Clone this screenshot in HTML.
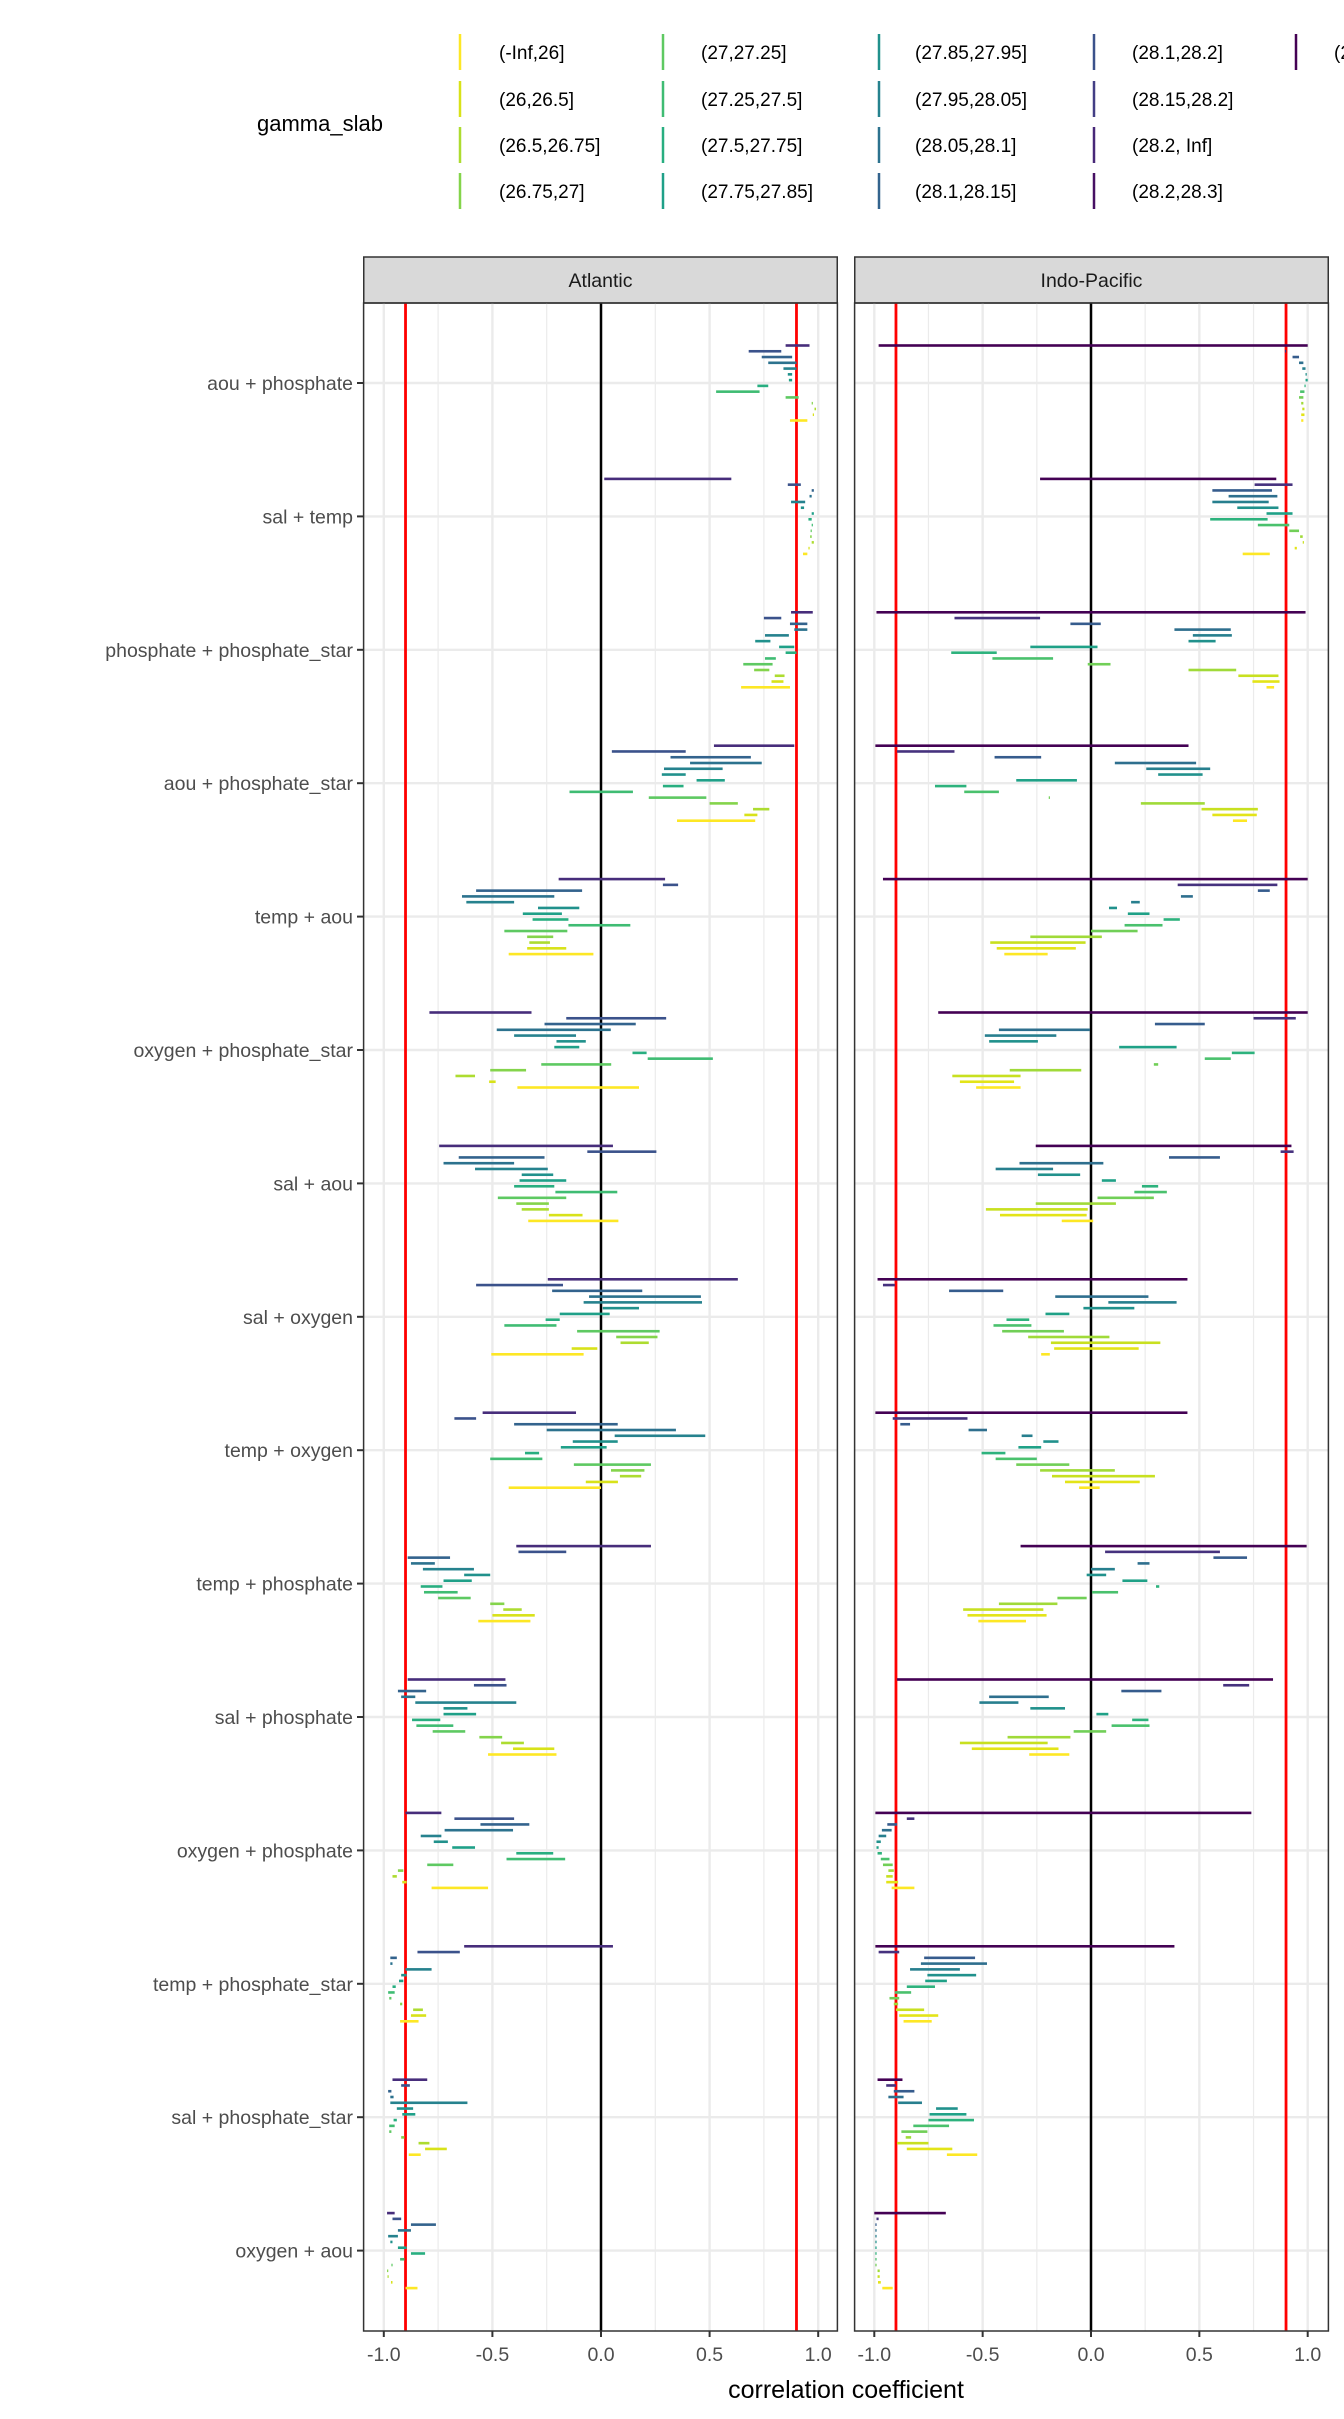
<!DOCTYPE html>
<html><head><meta charset="utf-8">
<style>
html,body{margin:0;padding:0;background:#fff;}
body{width:1344px;height:2419px;overflow:hidden;font-family:"Liberation Sans",sans-serif;}
svg{display:block}
</style></head>
<body>
<svg id="chart" width="1344" height="2419" viewBox="0 0 1344 2419" xmlns="http://www.w3.org/2000/svg" font-family="Liberation Sans, sans-serif">
  <g id="legend"></g>
  <g id="panels"></g>
  <text x="846" y="2398" font-size="25" text-anchor="middle" fill="#000">correlation coefficient</text>
</svg>
<script>
const categories = ["aou + phosphate","sal + temp","phosphate + phosphate_star","aou + phosphate_star","temp + aou","oxygen + phosphate_star","sal + aou","sal + oxygen","temp + oxygen","temp + phosphate","sal + phosphate","oxygen + phosphate","temp + phosphate_star","sal + phosphate_star","oxygen + aou"];
const panelNames = ["Atlantic","Indo-Pacific"];
const xTicks = [-1,-0.5,0,0.5,1];
const xTickLabels = ["-1.0","-0.5","0.0","0.5","1.0"];
const xMinor = [-0.75,-0.25,0.25,0.75];
const refLines = [-0.9,0.9];
const legendLabels = ["(-Inf,26]","(26,26.5]","(26.5,26.75]","(26.75,27]","(27,27.25]","(27.25,27.5]","(27.5,27.75]","(27.75,27.85]","(27.85,27.95]","(27.95,28.05]","(28.05,28.1]","(28.1,28.15]","(28.1,28.2]","(28.15,28.2]","(28.2, Inf]","(28.2,28.3]","(28.3, Inf]"];
const legendColors = ["#fde725","#d8e219","#addc30","#84d44b","#5ec962","#3fbc73","#28ae80","#1fa088","#21918c","#26828e","#2c728e","#33638d","#3b528b","#433e85","#482878","#471063","#440154"];
const atlColors = ["#472d7b","#3b528b","#33638d","#2c728e","#26828e","#21918c","#1fa088","#28ae80","#3fbc73","#5ec962","#84d44b","#addc30","#d8e219","#fde725"];
const indoColors = ["#440154","#46327e","#365c8d","#2e6f8e","#277f8e","#21918c","#1fa187","#2db27d","#4ac16d","#71cf57","#a0da39","#c8e020","#e3e418","#fde725"];

const atlantic = [
[[0.85,0.96],[0.68,0.83],[0.74,0.88],[0.77,0.90],[0.84,0.90],[0.86,0.88],[0.865,0.88],[0.72,0.77],[0.53,0.73],[0.85,0.91],[0.97,0.975],[0.983,0.99],[0.975,0.98],[0.87,0.95]],
[[0.015,0.60],[0.86,0.92],[0.97,0.98],[0.96,0.97],[0.875,0.94],[0.92,0.935],[0.97,0.98],[0.955,0.97],[0.97,0.975],[0.965,0.97],[0.963,0.97],[0.97,0.98],[0.955,0.96],[0.93,0.95]],
[[0.875,0.975],[0.75,0.83],[0.87,0.95],[0.89,0.95],[0.755,0.865],[0.71,0.78],[0.82,0.89],[0.85,0.90],[0.755,0.805],[0.655,0.79],[0.705,0.775],[0.80,0.845],[0.785,0.84],[0.645,0.87]],
[[0.52,0.89],[0.05,0.39],[0.32,0.69],[0.41,0.74],[0.29,0.56],[0.28,0.39],[0.44,0.57],[0.285,0.38],[-0.145,0.147],[0.22,0.485],[0.50,0.63],[0.70,0.775],[0.66,0.72],[0.35,0.71]],
[[-0.195,0.295],[0.285,0.355],[-0.575,-0.087],[-0.64,-0.215],[-0.62,-0.40],[-0.29,-0.10],[-0.36,-0.18],[-0.315,-0.15],[-0.15,0.135],[-0.445,-0.155],[-0.34,-0.22],[-0.33,-0.235],[-0.34,-0.16],[-0.425,-0.035]],
[[-0.79,-0.32],[-0.16,0.30],[-0.26,0.16],[-0.48,0.045],[-0.40,-0.115],[-0.205,-0.07],[-0.215,-0.10],[0.145,0.21],[0.215,0.515],[-0.275,0.047],[-0.51,-0.345],[-0.67,-0.58],[-0.515,-0.485],[-0.385,0.175]],
[[-0.745,0.055],[-0.063,0.255],[-0.655,-0.26],[-0.725,-0.40],[-0.58,-0.245],[-0.365,-0.22],[-0.375,-0.16],[-0.40,-0.215],[-0.21,0.075],[-0.475,-0.16],[-0.39,-0.24],[-0.365,-0.24],[-0.24,-0.085],[-0.335,0.08]],
[[-0.245,0.63],[-0.575,-0.175],[-0.225,0.19],[-0.055,0.46],[-0.08,0.465],[0.008,0.175],[-0.19,0.04],[-0.255,-0.19],[-0.445,-0.205],[-0.11,0.27],[0.07,0.26],[0.09,0.22],[-0.135,-0.017],[-0.505,-0.08]],
[[-0.545,-0.115],[-0.675,-0.575],[-0.40,0.077],[-0.25,0.345],[0.063,0.48],[-0.13,0.077],[-0.185,0.026],[-0.35,-0.285],[-0.51,-0.27],[-0.125,0.23],[0.046,0.20],[0.087,0.185],[-0.07,0.078],[-0.425,0.0]],
[[-0.39,0.23],[-0.38,-0.16],[-0.89,-0.695],[-0.875,-0.765],[-0.82,-0.585],[-0.63,-0.51],[-0.725,-0.595],[-0.83,-0.73],[-0.815,-0.66],[-0.75,-0.60],[-0.51,-0.445],[-0.45,-0.365],[-0.50,-0.305],[-0.565,-0.325]],
[[-0.89,-0.44],[-0.585,-0.435],[-0.935,-0.805],[-0.92,-0.855],[-0.855,-0.39],[-0.725,-0.615],[-0.725,-0.575],[-0.87,-0.74],[-0.85,-0.68],[-0.775,-0.625],[-0.56,-0.455],[-0.46,-0.355],[-0.405,-0.215],[-0.52,-0.205]],
[[-0.90,-0.735],[-0.675,-0.40],[-0.555,-0.33],[-0.72,-0.405],[-0.83,-0.735],[-0.77,-0.705],[-0.685,-0.58],[-0.39,-0.22],[-0.435,-0.165],[-0.80,-0.68],[-0.935,-0.91],[-0.96,-0.94],[-0.915,-0.895],[-0.78,-0.52]],
[[-0.63,0.055],[-0.845,-0.65],[-0.97,-0.94],[-0.97,-0.96],[-0.90,-0.78],[-0.92,-0.895],[-0.93,-0.91],[-0.96,-0.945],[-0.98,-0.95],[-0.975,-0.965],[-0.925,-0.915],[-0.865,-0.82],[-0.875,-0.805],[-0.925,-0.84]],
[[-0.96,-0.80],[-0.92,-0.88],[-0.98,-0.965],[-0.97,-0.955],[-0.97,-0.615],[-0.94,-0.865],[-0.915,-0.855],[-0.955,-0.94],[-0.975,-0.95],[-0.975,-0.965],[-0.92,-0.905],[-0.84,-0.79],[-0.81,-0.71],[-0.885,-0.83]],
[[-0.985,-0.95],[-0.96,-0.92],[-0.875,-0.76],[-0.935,-0.875],[-0.98,-0.935],[-0.97,-0.96],[-0.935,-0.895],[-0.875,-0.81],[-0.925,-0.905],[-0.965,-0.96],[-0.985,-0.982],[-0.983,-0.98],[-0.967,-0.96],[-0.90,-0.845]]
];
const indoPacific = [
[[-0.98,1.0],[0.895,0.90],[0.93,0.96],[0.96,0.98],[0.975,0.99],[0.99,0.995],[0.99,1.0],[0.985,0.99],[0.965,0.985],[0.96,0.98],[0.97,0.98],[0.975,0.985],[0.97,0.985],[0.97,0.98]],
[[-0.235,0.855],[0.755,0.93],[0.56,0.835],[0.635,0.86],[0.56,0.82],[0.675,0.865],[0.81,0.93],[0.55,0.815],[0.77,0.915],[0.915,0.96],[0.965,0.977],[0.977,0.98],[0.94,0.95],[0.70,0.825]],
[[-0.99,0.99],[-0.63,-0.235],[-0.095,0.045],[0.385,0.645],[0.47,0.65],[0.45,0.575],[-0.28,0.03],[-0.645,-0.435],[-0.455,-0.175],[-0.015,0.09],[0.45,0.67],[0.68,0.865],[0.745,0.87],[0.81,0.845]],
[[-0.995,0.45],[-0.895,-0.63],[-0.445,-0.23],[0.11,0.485],[0.255,0.55],[0.31,0.515],[-0.345,-0.065],[-0.72,-0.575],[-0.585,-0.425],[-0.195,-0.19],[0.23,0.525],[0.51,0.77],[0.56,0.765],[0.655,0.72]],
[[-0.96,1.0],[0.40,0.86],[0.77,0.825],[0.415,0.47],[0.185,0.225],[0.083,0.12],[0.17,0.27],[0.335,0.41],[0.155,0.33],[0.0,0.215],[-0.28,0.05],[-0.465,-0.025],[-0.435,-0.07],[-0.40,-0.20]],
[[-0.705,1.0],[0.75,0.945],[0.295,0.525],[-0.425,-0.005],[-0.49,-0.16],[-0.47,-0.245],[0.13,0.395],[0.65,0.755],[0.525,0.645],[0.29,0.31],[-0.375,-0.045],[-0.64,-0.325],[-0.605,-0.355],[-0.53,-0.325]],
[[-0.255,0.925],[0.875,0.935],[0.36,0.595],[-0.33,0.057],[-0.44,-0.175],[-0.245,-0.05],[0.05,0.115],[0.235,0.31],[0.20,0.35],[0.03,0.29],[-0.255,0.115],[-0.485,-0.015],[-0.42,-0.02],[-0.135,0.01]],
[[-0.985,0.445],[-0.96,-0.905],[-0.655,-0.405],[-0.165,0.265],[0.08,0.395],[-0.035,0.20],[-0.21,-0.10],[-0.39,-0.285],[-0.45,-0.275],[-0.41,-0.125],[-0.29,0.085],[-0.185,0.32],[-0.17,0.22],[-0.23,-0.19]],
[[-0.995,0.445],[-0.915,-0.57],[-0.88,-0.835],[-0.565,-0.48],[-0.32,-0.27],[-0.22,-0.15],[-0.335,-0.23],[-0.505,-0.395],[-0.44,-0.25],[-0.345,-0.10],[-0.235,0.11],[-0.18,0.295],[-0.12,0.225],[-0.055,0.04]],
[[-0.325,0.995],[0.065,0.595],[0.565,0.72],[0.215,0.27],[0.0,0.11],[-0.02,0.07],[0.145,0.26],[0.30,0.315],[0.005,0.125],[-0.155,-0.02],[-0.425,-0.155],[-0.59,-0.22],[-0.57,-0.205],[-0.52,-0.30]],
[[-0.895,0.84],[0.61,0.73],[0.14,0.325],[-0.47,-0.195],[-0.515,-0.335],[-0.28,-0.12],[0.025,0.08],[0.19,0.265],[0.095,0.27],[-0.08,0.07],[-0.385,-0.095],[-0.605,-0.20],[-0.55,-0.15],[-0.285,-0.10]],
[[-0.995,0.74],[-0.85,-0.815],[-0.94,-0.895],[-0.965,-0.92],[-0.98,-0.945],[-0.99,-0.97],[-0.99,-0.98],[-0.985,-0.965],[-0.97,-0.93],[-0.96,-0.915],[-0.935,-0.91],[-0.945,-0.915],[-0.945,-0.89],[-0.92,-0.815]],
[[-0.995,0.385],[-0.98,-0.885],[-0.77,-0.535],[-0.785,-0.48],[-0.835,-0.605],[-0.755,-0.53],[-0.765,-0.665],[-0.85,-0.72],[-0.905,-0.83],[-0.93,-0.885],[-0.91,-0.89],[-0.90,-0.77],[-0.885,-0.705],[-0.865,-0.735]],
[[-0.985,-0.87],[-0.945,-0.90],[-0.91,-0.815],[-0.935,-0.865],[-0.89,-0.78],[-0.715,-0.615],[-0.745,-0.575],[-0.75,-0.54],[-0.82,-0.655],[-0.875,-0.755],[-0.855,-0.83],[-0.895,-0.75],[-0.85,-0.64],[-0.665,-0.525]],
[[-1.0,-0.67],[-0.99,-0.98],[-0.995,-0.99],[-0.995,-0.99],[-0.995,-0.99],[-0.995,-0.99],[-0.995,-0.99],[-0.995,-0.99],[-0.995,-0.99],[-0.995,-0.99],[-0.985,-0.975],[-0.985,-0.975],[-0.983,-0.97],[-0.963,-0.915]]
];

const NS = "http://www.w3.org/2000/svg";
function mk(tag, attrs, parent){ const e=document.createElementNS(NS,tag); for(const k in attrs) e.setAttribute(k,attrs[k]); parent.appendChild(e); return e; }

// geometry
const panelTop=303, panelBottom=2331, stripTop=257;
const panels=[{x0:363,x1:838,zero:601,unit:217.2},{x0:854,x1:1329,zero:1091,unit:216.7}];
const rowY0=383, rowStep=133.4, slotStep=5.77;
function yRow(i){ return rowY0 + i*rowStep; }
function ySlot(i,k){ return yRow(i) + (k-6.5)*slotStep; }

// legend
const lg=document.getElementById('legend');
const lt=mk('text',{x:257,y:131,'font-size':22,fill:'#000'},lg);


lt.textContent='gamma_slab';
const colX=[460,663,879,1094,1296], labX=[499,701,915,1132,1334], rowLY=[52,99,145,191];
legendLabels.forEach((lab,i)=>{
  const c=Math.floor(i/4), r=i%4;
  const g=mk('g',{},lg);
  
  
  mk('line',{x1:colX[c],x2:colX[c],y1:rowLY[r]-18,y2:rowLY[r]+18,stroke:legendColors[i],'stroke-width':2.5},g);
  const t=mk('text',{x:labX[c],y:rowLY[r]+7,'font-size':19,fill:'#000'},g);
  t.textContent=lab;
});

// panels
const pg=document.getElementById('panels');
// y-axis labels
categories.forEach((cat,i)=>{
  const t=mk('text',{x:353,y:yRow(i)+7,'font-size':19.5,fill:'#4d4d4d','text-anchor':'end'},pg);
  
  
  t.textContent=cat;
  const tk=mk('line',{x1:357,x2:363,y1:yRow(i),y2:yRow(i),stroke:'#333','stroke-width':2},pg);
  
  
});
const datasets=[atlantic,indoPacific], colorSets=[atlColors,indoColors];
panels.forEach((p,pi)=>{
  const g=mk('g',{},pg);
  
  
  const X=v=>p.zero+v*p.unit;
  // strip
  const s=mk('rect',{x:p.x0+0.75,y:stripTop,width:p.x1-p.x0-1.5,height:panelTop-stripTop,fill:'#d9d9d9',stroke:'#333','stroke-width':1.5},g);
  
  
  const st=mk('text',{x:(p.x0+p.x1)/2,y:stripTop+30,'font-size':19.5,fill:'#1a1a1a','text-anchor':'middle'},g);
  
  
  st.textContent=panelNames[pi];
  // grid
  xMinor.forEach(v=>mk('line',{x1:X(v),x2:X(v),y1:panelTop,y2:panelBottom,stroke:'#ebebeb','stroke-width':1.2},g));
  xTicks.forEach(v=>mk('line',{x1:X(v),x2:X(v),y1:panelTop,y2:panelBottom,stroke:'#ebebeb','stroke-width':2.4},g));
  categories.forEach((c,i)=>mk('line',{x1:p.x0,x2:p.x1,y1:yRow(i),y2:yRow(i),stroke:'#ebebeb','stroke-width':2.4},g));
  // ref lines
  refLines.forEach(v=>{
    const l=mk('line',{x1:X(v),x2:X(v),y1:panelTop,y2:panelBottom,stroke:'#ff0000','stroke-width':2.8},g);
    
    
  });
  const z=mk('line',{x1:X(0),x2:X(0),y1:panelTop,y2:panelBottom,stroke:'#000','stroke-width':2.5},g);
  
  
  // bars
  datasets[pi].forEach((row,i)=>{
    row.forEach((seg,k)=>{
      if(!seg) return;
      const w=Math.max(X(seg[1])-X(seg[0]),1.2);
      const r=mk('rect',{x:X(seg[0]),y:ySlot(i,k)-1.3,width:w,height:2.6,fill:colorSets[pi][k]},g);
      
      
    });
  });
  // border
  const b=mk('rect',{x:p.x0+0.6,y:panelTop,width:p.x1-p.x0-1.2,height:panelBottom-panelTop,fill:'none',stroke:'#333','stroke-width':1.5},g);
  
  
  // x ticks
  xTicks.forEach((v,j)=>{
    mk('line',{x1:X(v),x2:X(v),y1:panelBottom,y2:panelBottom+6,stroke:'#333','stroke-width':2},g);
    const t=mk('text',{x:X(v),y:panelBottom+30,'font-size':19.5,fill:'#4d4d4d','text-anchor':'middle'},g);
    
    
    t.textContent=xTickLabels[j];
  });
});
</script>
</body></html>
